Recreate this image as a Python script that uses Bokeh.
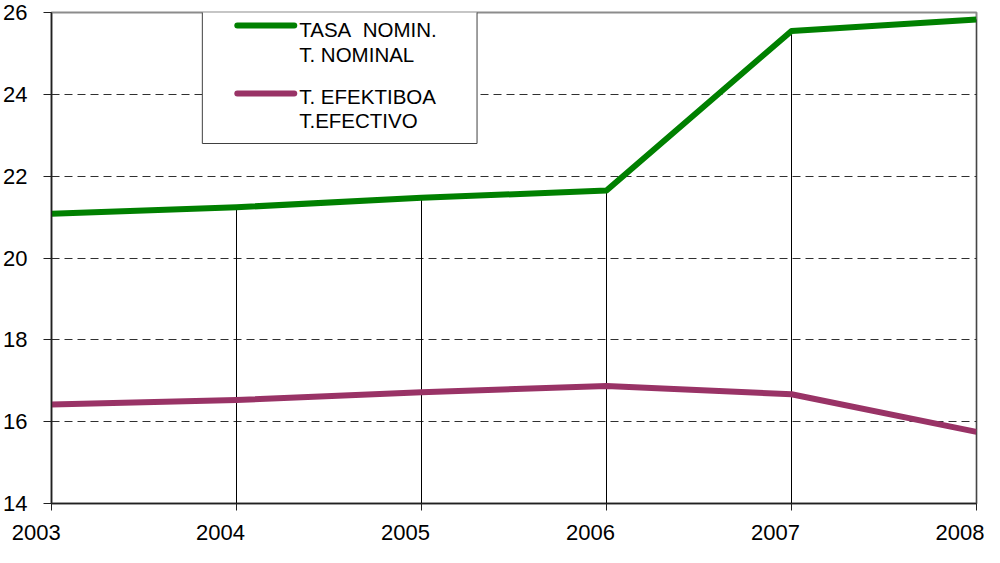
from bokeh.plotting import figure
from bokeh.models import (FixedTicker, Label, BoxAnnotation, Arrow, Range1d,
                          CustomJSTickFormatter)
from bokeh.embed import file_html
from bokeh.resources import INLINE

# ---- data ----
years = [2003, 2004, 2005, 2006, 2007, 2008]
year_labels = ["2003", "2004", "2005", "2006", "2007", "2008"]
nominal = [21.08, 21.24, 21.47, 21.65, 25.55, 25.83]
efectivo = [16.42, 16.53, 16.72, 16.87, 16.67, 15.75]
y_ticks = [14, 16, 18, 20, 22, 24, 26]
grid_ticks = [16, 18, 20, 22, 24]
legend_nominal = ["TASA\u00a0 NOMIN.", "T. NOMINAL"]
legend_efectivo = ["T. EFEKTIBOA", "T.EFECTIVO"]
GREEN = "#008000"
PLUM = "#993366"

FONT = "Liberation Sans"
W, H = 984, 547
ML, MR, MT, MB = 50, 8, 12, 44
X0, X1 = 2003, 2008
Y0, Y1 = 14, 26

# frame position on the page (page has an 8px margin)
FL, FR, FT, FB = 8 + ML, 8 + W - MR, 8 + MT, 8 + H - MB
LABEL_SHIFT = 16 / (FR - FL) * (X1 - X0)   # x labels sit 16px left of their ticks


def dx(px):
    return X0 + (px - FL) / (FR - FL) * (X1 - X0)


def dy(py):
    return Y1 - (py - FT) / (FB - FT) * (Y1 - Y0)


p = figure(width=W, height=H, output_backend="svg", toolbar_location=None,
           x_range=Range1d(X0, X1), y_range=Range1d(Y0, Y1), title=None,
           min_border_left=ML, min_border_right=MR, min_border_top=MT,
           min_border_bottom=MB)
p.background_fill_color = "white"
p.border_fill_color = "white"
p.outline_line_color = "#8c8c8c"
p.outline_line_width = 2

# grid
p.xgrid.visible = False
p.ygrid.ticker = FixedTicker(ticks=grid_ticks)
p.ygrid.grid_line_color = "#303030"
p.ygrid.grid_line_dash = "8 5"
p.ygrid.grid_line_width = 1

# y axis
p.yaxis.ticker = FixedTicker(ticks=y_ticks)
p.yaxis.major_label_text_font = FONT
p.yaxis.major_label_text_font_size = "22px"
p.yaxis.major_label_text_color = "black"
p.yaxis.major_label_standoff = 16
p.yaxis.major_tick_out = 8
p.yaxis.major_tick_in = 0
p.yaxis.minor_tick_out = 0
p.yaxis.minor_tick_in = 0
p.yaxis.axis_line_color = "#202020"
p.yaxis.axis_line_width = 1.5
p.yaxis.major_tick_line_color = "#202020"

# x axis: tick marks at the years (minor ticks), labels a little to the left
label_pos = [X0] + [y - LABEL_SHIFT for y in years[1:]]
p.xaxis.ticker = FixedTicker(ticks=label_pos, minor_ticks=years)
p.xaxis.formatter = CustomJSTickFormatter(
    args=dict(labels=year_labels, start=X0, sh=LABEL_SHIFT, pad="\u2007\u2007\u00a0"),
    code="const i = Math.round(tick + sh - start); return i == 0 ? labels[i] + pad : labels[i];")
p.xaxis.major_tick_line_color = None
p.xaxis.major_tick_out = 7
p.xaxis.major_tick_in = 0
p.xaxis.minor_tick_out = 7
p.xaxis.minor_tick_in = 0
p.xaxis.minor_tick_line_color = "#202020"
p.xaxis.minor_tick_line_width = 1
p.xaxis.axis_line_color = "#202020"
p.xaxis.axis_line_width = 1.5
p.xaxis.major_label_standoff = 9
p.xaxis.major_label_text_font = FONT
p.xaxis.major_label_text_font_size = "22px"
p.xaxis.major_label_text_color = "black"

# drop lines from the upper series to the axis
p.segment(x0=years, y0=[Y0] * len(years), x1=years, y1=nominal,
          line_color="black", line_width=1)

# series
p.line(years, nominal, line_color=GREEN, line_width=6, line_join="round")
p.line(years, efectivo, line_color=PLUM, line_width=6, line_join="round")

# legend (manual)
p.add_layout(BoxAnnotation(left=dx(209), right=dx(484), top=dy(14), bottom=dy(151),
                           fill_color="white", fill_alpha=1.0,
                           line_color="#404040", line_width=1, line_alpha=1.0))
for col, ly, texts, mids in [(GREEN, 33, legend_nominal, (36.5, 62)),
                             (PLUM, 101, legend_efectivo, (103.5, 128))]:
    p.add_layout(Arrow(end=None, x_start=dx(244), y_start=dy(ly), x_end=dx(301),
                       y_end=dy(ly), line_color=col, line_width=6, line_cap="round"))
    for t, m in zip(texts, mids):
        p.add_layout(Label(x=dx(306), y=dy(m), text=t, text_align="left",
                           text_baseline="middle", text_font=FONT,
                           text_font_size="20.5px", text_color="black"))

open("out.html", "w").write(file_html(p, INLINE))
